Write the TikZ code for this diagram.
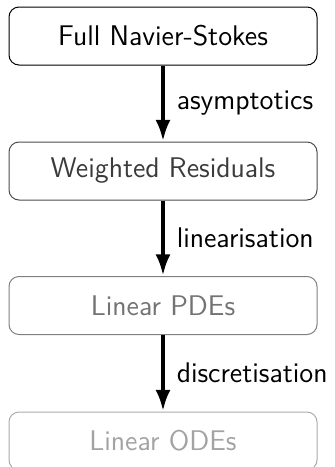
\documentclass[tikz,border=0pt]{standalone}
\usetikzlibrary{arrows.meta}
\begin{document}
\begin{tikzpicture}[x=0.5pt,y=-0.5pt,
  stage/.style={draw, rounded corners=5pt, minimum width=154pt, minimum height=29pt,
    line width=0.5pt, inner sep=0pt,
    font=\sffamily\fontsize{14.2}{17}\selectfont},
  flow/.style={-{Latex[length=10.5pt,width=7.5pt]}, line width=1.75pt, shorten >=0.3pt},
  lbl/.style={right, inner sep=6pt, font=\sffamily\fontsize{14.2}{17}\selectfont}]
\useasboundingbox (0,0) rectangle (335,467);
% the chain of model reductions, fading as it goes down
\node[stage, draw=black, text=black] (ns) at (163,36) {Full Navier-Stokes};
\node[stage, draw=black!70, text=black!77] (wr) at (163,171) {Weighted Residuals};
\node[stage, draw=black!50, text=black!55] (pde) at (163,305.5) {Linear PDEs};
\node[stage, draw=black!33, text=black!36] (ode) at (163,441) {Linear ODEs};
% reduction steps
\draw[flow] (ns) -- node[lbl] {asymptotics} (wr);
\draw[flow] (wr) -- node[lbl] {linearisation} (pde);
\draw[flow] (pde) -- node[lbl] {discretisation} (ode);
\end{tikzpicture}
\end{document}
